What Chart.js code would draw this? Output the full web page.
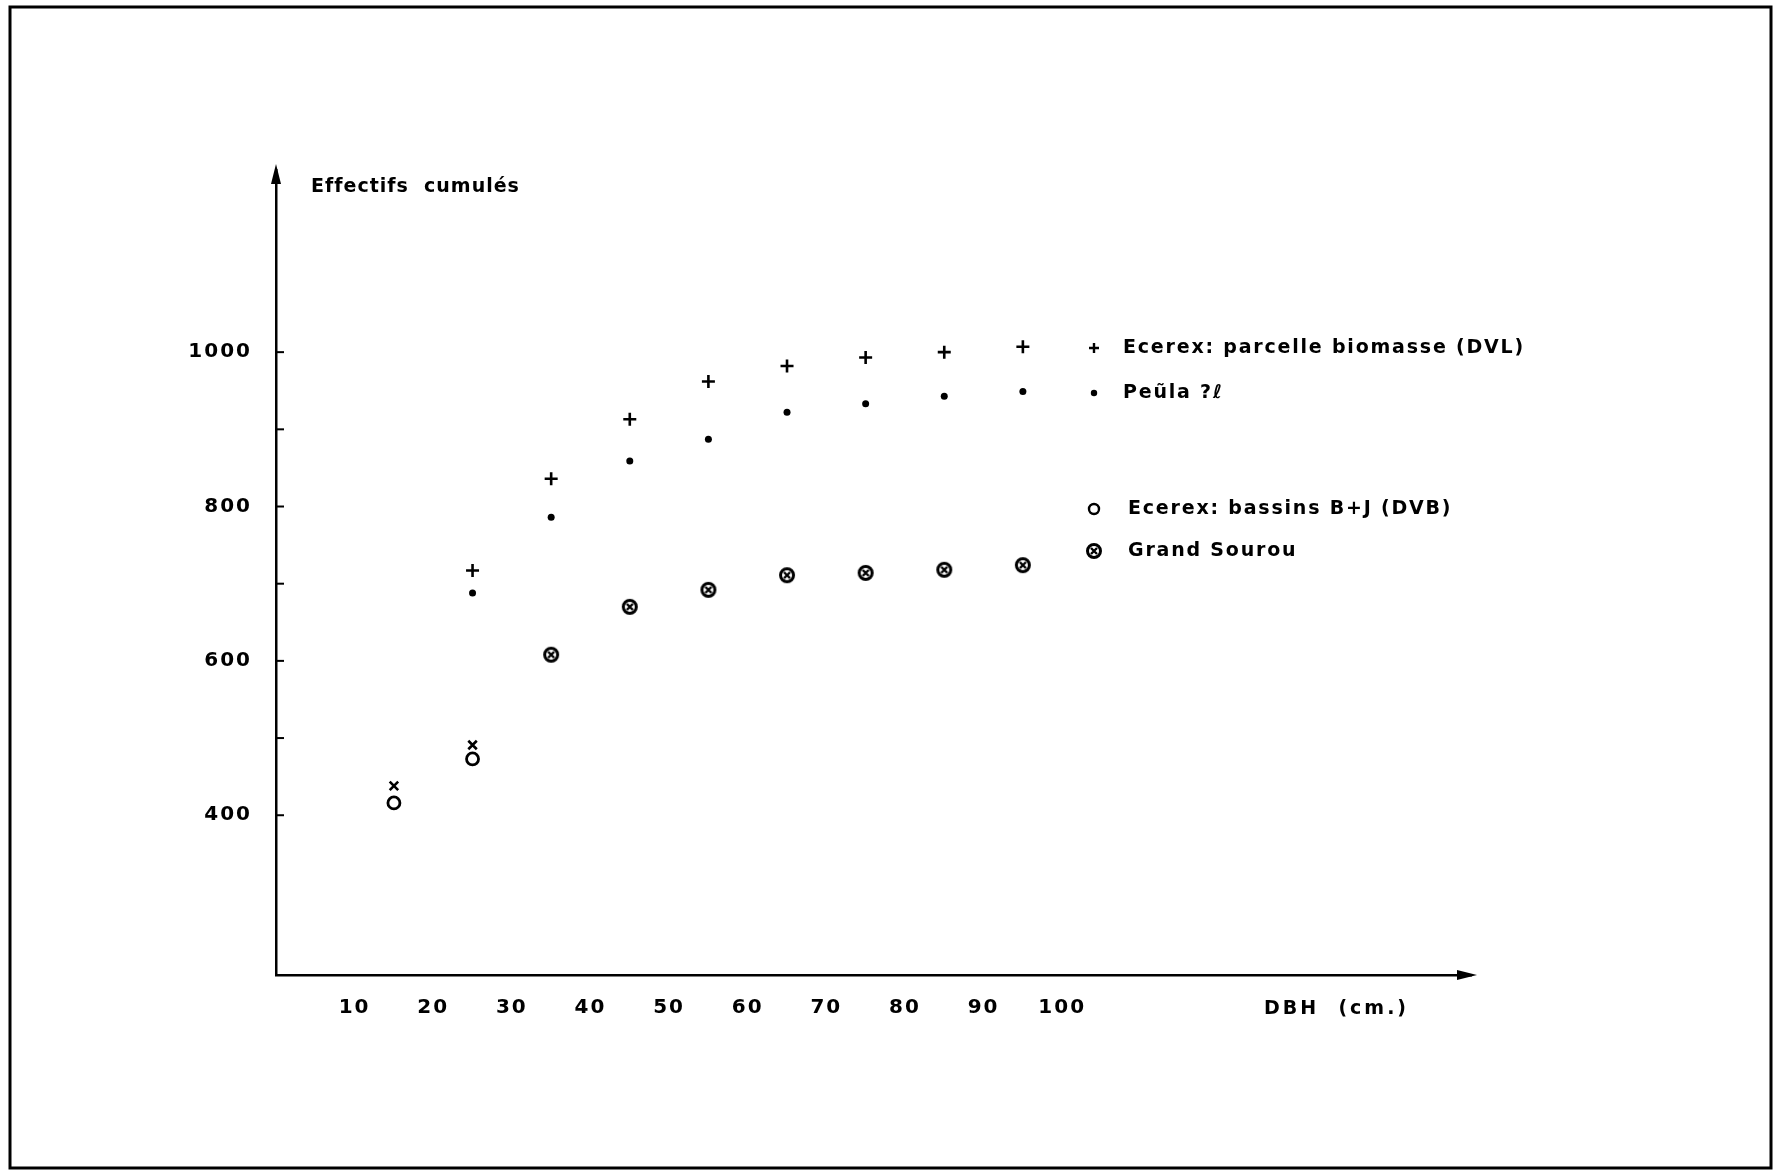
<!DOCTYPE html>
<html>
<head>
<meta charset="utf-8">
<title>Effectifs cumulés</title>
<script src="https://cdn.jsdelivr.net/npm/chart.js@4/dist/chart.umd.min.js"></script>
<style>
    body { margin: 0; background: #fff; }
    #chart { display: block; }
</style>
</head>
<body>
<canvas id="chart" width="1774" height="1170"></canvas>
<script>
// DBH class midpoints (cm)
const dbhClasses = [15, 25, 35, 45, 55, 65, 75, 85, 95];

// cumulative counts
const ecerexBiomasse = [null, 717, 836, 913, 962, 982, 993, 1000, 1007];
const peula = [null, 688, 786, 859, 887, 922, 933, 943, 949];
const ecerexBassins = [416, 473, null, null, null, null, null, null, null];
const crossMarks = [438, 491, null, null, null, null, null, null, null];
const grandSourou = [null, null, 608, 670, 692, 711, 714, 718, 724];

const xTickValues = [10, 20, 30, 40, 50, 60, 70, 80, 90, 100];
const yTickValues = [400, 500, 600, 700, 800, 900, 1000];
const yLabelValues = [400, 600, 800, 1000];

const seriesLabels = [
    'Ecerex: parcelle biomasse (DVL)',
    'Peũla ?ℓ',
    'Ecerex: bassins B+J (DVB)',
    'Grand Sourou'
];

const FONT = '"DejaVu Sans", sans-serif';

const toPoints = (values) => dbhClasses.map((x, i) => ({ x: x, y: values[i] }));

// circle with a cross inside, for Grand Sourou
const sourouMarker = document.createElement('canvas');
sourouMarker.width = 18;
sourouMarker.height = 18;
(function () {
    const c = sourouMarker.getContext('2d');
    c.strokeStyle = '#000';
    c.lineWidth = 3;
    c.beginPath();
    c.arc(9, 9, 6.5, 0, Math.PI * 2);
    c.stroke();
    c.lineWidth = 2.4;
    c.beginPath();
    c.moveTo(6, 6); c.lineTo(12, 12);
    c.moveTo(12, 6); c.lineTo(6, 12);
    c.stroke();
})();

// frame, arrows, inner ticks, title and legend
const decorations = {
    id: 'decorations',
    beforeDraw(chart) {
        chart.ctx.letterSpacing = '2px';
    },
    afterDraw(chart) {
        const ctx = chart.ctx;
        const area = chart.chartArea;
        const yScale = chart.scales.y;
        ctx.save();
        ctx.strokeStyle = '#000';
        ctx.fillStyle = '#000';

        // outer frame
        ctx.lineWidth = 3;
        ctx.strokeRect(10, 7, 1761, 1161);

        // arrow heads
        ctx.beginPath();
        ctx.moveTo(area.left, area.top - 6);
        ctx.lineTo(area.left - 5, area.top + 14);
        ctx.lineTo(area.left + 5, area.top + 14);
        ctx.closePath();
        ctx.fill();
        ctx.beginPath();
        ctx.moveTo(area.right + 6, area.bottom);
        ctx.lineTo(area.right - 14, area.bottom - 5);
        ctx.lineTo(area.right - 14, area.bottom + 5);
        ctx.closePath();
        ctx.fill();

        // small ticks on the inside of the y axis
        ctx.lineWidth = 2;
        yTickValues.forEach(v => {
            const py = yScale.getPixelForValue(v);
            ctx.beginPath();
            ctx.moveTo(area.left, py);
            ctx.lineTo(area.left + 8, py);
            ctx.stroke();
        });

        ctx.font = 'bold 19px ' + FONT;
        ctx.textBaseline = 'middle';
        ctx.textAlign = 'left';
        ctx.letterSpacing = '1px';
        ctx.fillText('Effectifs  cumulés', 311, 187);
        ctx.letterSpacing = '3px';
        ctx.fillText('DBH  (cm.)', 1264, 1009);

        // legend
        const rows = [
            { y: 348, tx: 1123, marker: 'plus' },
            { y: 393, tx: 1123, marker: 'dot' },
            { y: 509, tx: 1128, marker: 'ring' },
            { y: 551, tx: 1128, marker: 'sourou' }
        ];
        const mx = 1094;
        ctx.letterSpacing = '1.8px';
        rows.forEach((r, i) => {
            ctx.lineWidth = 2.4;
            if (r.marker === 'plus') {
                ctx.beginPath();
                ctx.moveTo(mx - 5, r.y); ctx.lineTo(mx + 5, r.y);
                ctx.moveTo(mx, r.y - 5); ctx.lineTo(mx, r.y + 5);
                ctx.stroke();
            } else if (r.marker === 'dot') {
                ctx.beginPath();
                ctx.arc(mx, r.y, 3.2, 0, Math.PI * 2);
                ctx.fill();
            } else if (r.marker === 'ring') {
                ctx.beginPath();
                ctx.arc(mx, r.y, 5, 0, Math.PI * 2);
                ctx.stroke();
            } else {
                ctx.drawImage(sourouMarker, mx - 9, r.y - 9);
            }
            ctx.fillText(seriesLabels[i], r.tx, r.y);
        });
        ctx.restore();
    }
};

const ctx = document.getElementById('chart').getContext('2d');
const chart = new Chart(ctx, {
    type: 'scatter',
    data: {
        datasets: [{
            label: seriesLabels[0],
            data: toPoints(ecerexBiomasse),
            pointStyle: 'cross',
            pointRadius: 6.5,
            borderColor: '#000',
            borderWidth: 2.6
        }, {
            label: seriesLabels[1],
            data: toPoints(peula),
            pointStyle: 'circle',
            pointRadius: 3.5,
            backgroundColor: '#000',
            borderColor: '#000',
            borderWidth: 0
        }, {
            label: seriesLabels[2],
            data: toPoints(ecerexBassins),
            pointStyle: 'circle',
            pointRadius: 6,
            backgroundColor: '#fff',
            borderColor: '#000',
            borderWidth: 2.8
        }, {
            label: 'x',
            data: toPoints(crossMarks),
            pointStyle: 'crossRot',
            pointRadius: 6,
            borderColor: '#000',
            borderWidth: 2.6
        }, {
            label: seriesLabels[3],
            data: toPoints(grandSourou),
            pointStyle: sourouMarker,
            borderColor: '#000'
        }]
    },
    options: {
        responsive: false,
        animation: false,
        layout: {
            padding: { top: 170, right: 303, left: 0, bottom: 0 }
        },
        plugins: {
            legend: { display: false },
            tooltip: { enabled: false }
        },
        scales: {
            x: {
                type: 'linear',
                min: 0,
                max: 152,
                afterBuildTicks: (scale) => {
                    scale.ticks = xTickValues.map(v => ({ value: v }));
                },
                afterFit: (scale) => { scale.height = 195; },
                grid: { display: false, drawTicks: false },
                border: { display: true, color: '#000', width: 2.5 },
                ticks: {
                    color: '#000',
                    padding: 21,
                    font: { family: FONT, size: 20, weight: 'bold' },
                    maxRotation: 0,
                    autoSkip: false
                }
            },
            y: {
                type: 'linear',
                min: 193,
                max: 1236,
                afterBuildTicks: (scale) => {
                    scale.ticks = yTickValues.map(v => ({ value: v }));
                },
                afterFit: (scale) => { scale.width = 276; },
                grid: { display: false, drawTicks: false },
                border: { display: true, color: '#000', width: 2.5 },
                ticks: {
                    color: '#000',
                    padding: 24,
                    font: { family: FONT, size: 20, weight: 'bold' },
                    autoSkip: false,
                    callback: (value) => yLabelValues.includes(value) ? String(value) : null
                }
            }
        }
    },
    plugins: [decorations]
});
</script>
</body>
</html>
